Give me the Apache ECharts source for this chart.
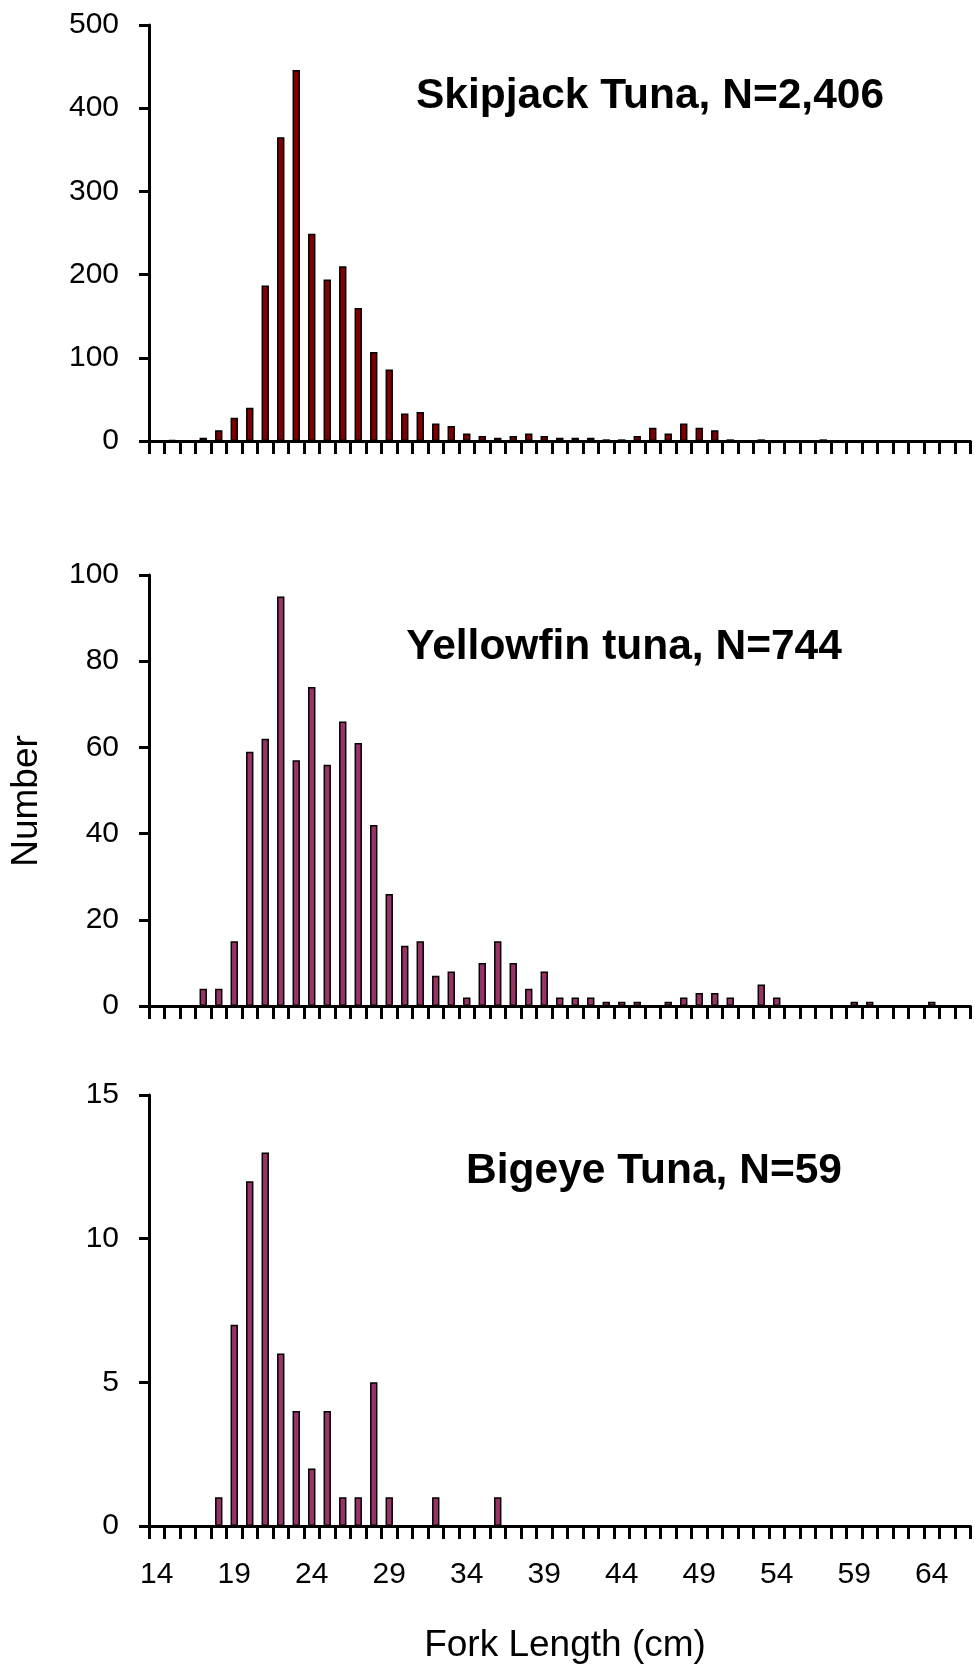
<!DOCTYPE html>
<html>
<head>
<meta charset="utf-8">
<script src="https://cdn.jsdelivr.net/npm/echarts@6/dist/echarts.min.js"></script>
<style>
html,body{margin:0;padding:0;background:#fff;}
#chart{width:975px;height:1671px;}
</style>
</head>
<body>
<div id="chart"></div>
<script>
// Fork length categories (cm)
const lengths = ['14','15','16','17','18','19','20','21','22','23','24','25','26','27','28','29','30','31','32','33','34','35','36','37','38','39','40','41','42','43','44','45','46','47','48','49','50','51','52','53','54','55','56','57','58','59','60','61','62','63','64','65','66'];

// Skipjack Tuna, N=2,406
const skipjack = [0,1,0,4,13,28,40,187,365,446,249,194,210,160,107,86,33,35,21,18,9,6,4,6,9,6,4,4,4,2,2,6,16,9,21,16,13,2,0,2,0,0,0,2,0,0,0,0,0,0,0,0,0];

// Yellowfin tuna, N=744
const yellowfin = [0,0,0,4,4,15,59,62,95,57,74,56,66,61,42,26,14,15,7,8,2,10,15,10,4,8,2,2,2,1,1,1,0,1,2,3,3,2,0,5,2,0,0,0,0,1,1,0,0,0,1,0,0];

// Bigeye Tuna, N=59
const bigeye = [0,0,0,0,1,7,12,13,6,4,2,4,1,1,5,1,0,0,1,0,0,0,1,0,0,0,0,0,0,0,0,0,0,0,0,0,0,0,0,0,0,0,0,0,0,0,0,0,0,0,0,0,0];

const titles = ['Skipjack Tuna, N=2,406', 'Yellowfin tuna, N=744', 'Bigeye Tuna, N=59'];
const yMax = [500, 100, 15];
const yStep = [100, 20, 5];
const xTitle = 'Fork Length (cm)';
const yTitle = 'Number';

const FONT = '"Liberation Sans", Arial, sans-serif';
const panels = [
  {top: 25, height: 416, color: '#800000', data: skipjack, title: {x: 650, y: 96}},
  {top: 575, height: 431, color: '#993366', data: yellowfin, title: {x: 624, y: 647}},
  {top: 1095, height: 431, color: '#993366', data: bigeye, title: {x: 654, y: 1171}}
];

const grids = [], xAxes = [], yAxes = [], series = [], graphics = [];
panels.forEach((p, i) => {
  grids.push({left: 149, right: 4.5, top: p.top, height: p.height, containLabel: false});
  xAxes.push({
    type: 'category', gridIndex: i, data: lengths, boundaryGap: true,
    axisLine: {show: true, onZero: false, lineStyle: {color: '#000', width: 3}},
    axisTick: {show: true, interval: 0, alignWithLabel: false, length: 13, lineStyle: {color: '#000', width: 3}},
    axisLabel: {show: i === 2, interval: 4, margin: 34, color: '#000', fontSize: 30, fontFamily: FONT},
    splitLine: {show: false}
  });
  yAxes.push({
    type: 'value', gridIndex: i, min: 0, max: yMax[i], interval: yStep[i],
    axisLine: {show: true, lineStyle: {color: '#000', width: 3}},
    axisTick: {show: true, length: 10, lineStyle: {color: '#000', width: 3}},
    axisLabel: {color: '#000', fontSize: 30, fontFamily: FONT, margin: 30},
    splitLine: {show: false}
  });
  series.push({
    type: 'bar', xAxisIndex: i, yAxisIndex: i, data: p.data, barWidth: 7.4,
    itemStyle: {color: p.color, borderColor: '#000', borderWidth: 1.5},
    animation: false, silent: true
  });
  graphics.push({
    type: 'text', x: p.title.x, y: p.title.y,
    style: {text: titles[i], fill: '#000', fontSize: 42.5, fontWeight: 'bold', fontFamily: FONT,
            align: 'center', verticalAlign: 'middle', textAlign: 'center', textVerticalAlign: 'middle'}
  });
});

graphics.push({
  type: 'text', x: 27, y: 801, rotation: Math.PI / 2,
  style: {text: yTitle, fill: '#000', fontSize: 37, fontFamily: FONT,
          align: 'center', verticalAlign: 'middle', textAlign: 'center', textVerticalAlign: 'middle'}
});
graphics.push({
  type: 'text', x: 565, y: 1646,
  style: {text: xTitle, fill: '#000', fontSize: 37, fontFamily: FONT,
          align: 'center', verticalAlign: 'middle', textAlign: 'center', textVerticalAlign: 'middle'}
});

const chart = echarts.init(document.getElementById('chart'), null, {renderer: 'canvas'});
chart.setOption({
  backgroundColor: '#fff',
  animation: false,
  grid: grids,
  xAxis: xAxes,
  yAxis: yAxes,
  series: series,
  graphic: graphics
});
</script>
</body>
</html>
